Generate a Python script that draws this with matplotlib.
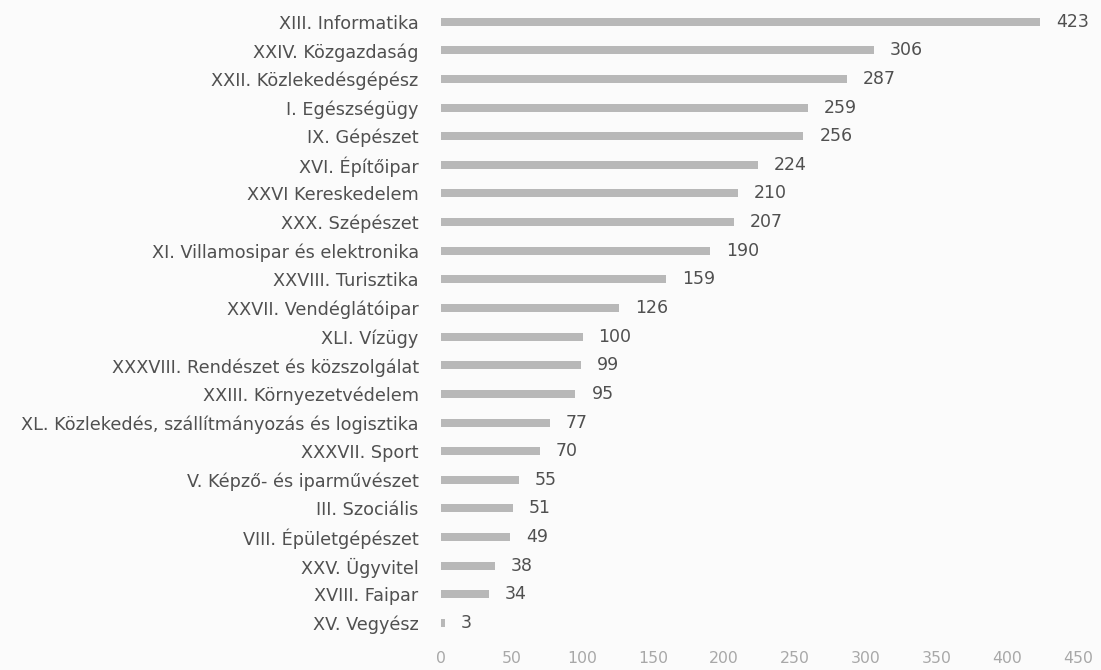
import matplotlib
matplotlib.use("Agg")
import matplotlib.pyplot as plt

plt.rcParams['font.family'] = ['DejaVu Sans']

categories = [
    "XIII. Informatika",
    "XXIV. Közgazdaság",
    "XXII. Közlekedésgépész",
    "I. Egészségügy",
    "IX. Gépészet",
    "XVI. Építőipar",
    "XXVI Kereskedelem",
    "XXX. Szépészet",
    "XI. Villamosipar és elektronika",
    "XXVIII. Turisztika",
    "XXVII. Vendéglátóipar",
    "XLI. Vízügy",
    "XXXVIII. Rendészet és közszolgálat",
    "XXIII. Környezetvédelem",
    "XL. Közlekedés, szállítmányozás és logisztika",
    "XXXVII. Sport",
    "V. Képző- és iparművészet",
    "III. Szociális",
    "VIII. Épületgépészet",
    "XXV. Ügyvitel",
    "XVIII. Faipar",
    "XV. Vegyész",
]
values = [423, 306, 287, 259, 256, 224, 210, 207, 190, 159, 126,
          100, 99, 95, 77, 70, 55, 51, 49, 38, 34, 3]
xticks = [0, 50, 100, 150, 200, 250, 300, 350, 400, 450]

fig = plt.figure(figsize=(11.01, 6.70), dpi=100)
fig.patch.set_facecolor("#fbfbfb")
ax = fig.add_axes([0.4005, 0.0488, 0.5786, 0.9402])
ax.set_facecolor("#fbfbfb")

ypos = list(range(len(categories)))
ax.barh(ypos, values, height=0.28, color="#b8b8b8")
ax.set_ylim(len(categories) - 0.5, -0.5)
ax.set_xlim(0, 450)

# value labels right of each bar
for y, v in zip(ypos, values):
    ax.annotate(str(v), (v, y), xytext=(11.5, 0), textcoords="offset points",
                va="center", ha="left", fontsize=12.5, color="#505050")

ax.set_yticks(ypos)
ax.set_yticklabels(categories, fontsize=12.7, color="#505050")
ax.set_xticks(xticks)
ax.set_xticklabels([str(t) for t in xticks], fontsize=11.3, color="#a8a8a8")
ax.tick_params(axis="y", length=0, pad=16)
ax.tick_params(axis="x", length=0, pad=10)
for s in ax.spines.values():
    s.set_visible(False)

fig.savefig("out.png", dpi=100, facecolor=fig.get_facecolor())
